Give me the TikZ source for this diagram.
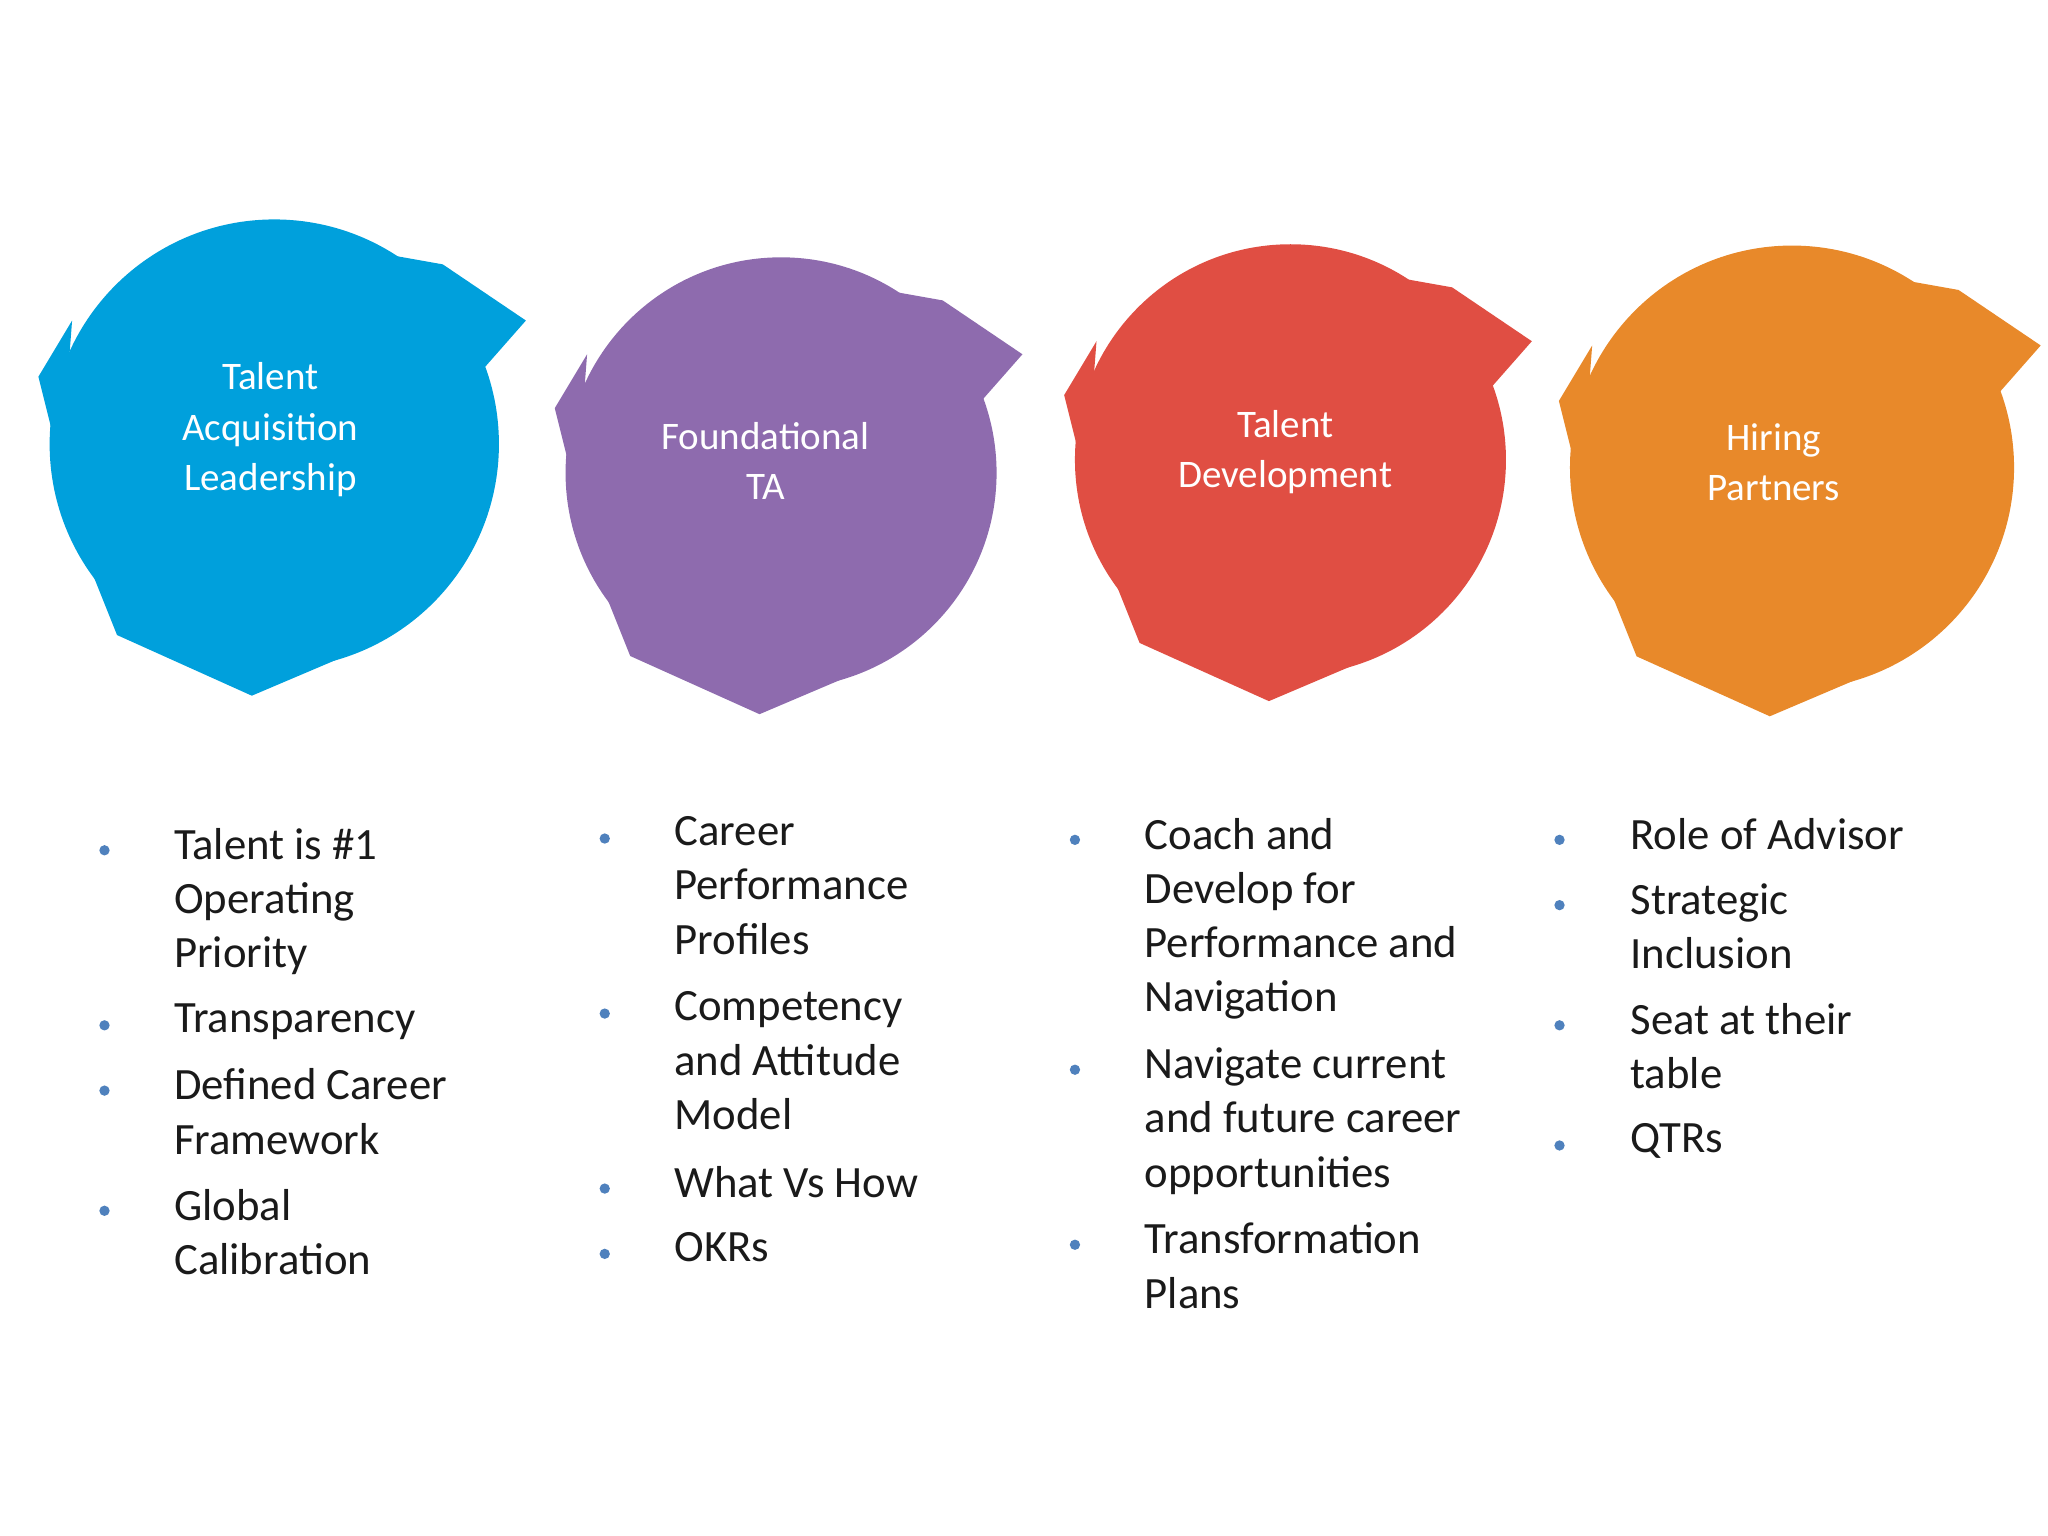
\documentclass[tikz,border=0pt]{standalone}
\usepackage{fontspec}
\setmainfont{Carlito}
\definecolor{cblue}{HTML}{00A0DC}
\definecolor{cpurp}{HTML}{8E6BAE}
\definecolor{cred}{HTML}{E04E43}
\definecolor{corng}{HTML}{E8892A}
\definecolor{cbul}{HTML}{4F81BD}
\definecolor{ctxt}{HTML}{1A1A1A}
\tikzset{
 blob/.style={circle,inner sep=0pt},
 ctext/.style={text=white,align=center,font=\fontsize{17}{22}\selectfont},
 item/.style={anchor=north west,align=left,text=ctxt,inner sep=0pt,font=\fontsize{19.5}{23.6}\selectfont},
 dot/.style={circle,fill=cbul,inner sep=0pt,minimum size=4.5pt},
}
\begin{document}
\begin{tikzpicture}[x=0.02cm,y=-0.02cm]
\useasboundingbox (0,0) rectangle (1568,1176);
% splatter hints
\foreach \c/\x/\y/\r in {cblue/210/340/172, cpurp/598/362/165, cred/988/352/165, corng/1372/358/170}{
  \fill[\c] (\x-\r*0.15,\y-\r*0.96) -- (\x+\r*0.75,\y-\r*0.8) -- (\x+\r*1.12,\y-\r*0.55) -- (\x+\r*0.9,\y-\r*0.3) -- cycle;
  \fill[\c] (\x-\r*0.9,\y+\r*0.35) -- (\x-\r*0.7,\y+\r*0.85) -- (\x-\r*0.1,\y+\r*1.12) -- (\x+\r*0.3,\y+\r*0.95) -- cycle;
  \fill[\c] (\x-\r*1.05,\y-\r*0.3) -- (\x-\r*0.9,\y-\r*0.55) -- (\x-\r*0.95,\y+\r*0.1) -- cycle;
}
\node[blob,fill=cblue,minimum size=344*0.02cm] (c1) at (210,340) {};
\node[blob,fill=cpurp,minimum size=330*0.02cm] (c2) at (598,362) {};
\node[blob,fill=cred,minimum size=330*0.02cm] (c3) at (988,352) {};
\node[blob,fill=corng,minimum size=340*0.02cm] (c4) at (1372,358) {};
\node[ctext] (t1) at (207,329) {Talent\\Acquisition\\Leadership};
\node[ctext] (t2) at (586,353) {Foundational\\TA};
\node[ctext] (t3) at (984,346) {Talent\\Development};
\node[ctext] (t4) at (1358,354) {Hiring\\Partners};
% column 1
\node[dot] (b11) at (80,651) {}; \node[item] (i11) at (133,634) {Talent is \#1\\Operating\\Priority};
\node[dot] (b12) at (80,785) {}; \node[item] (i12) at (133,768) {Transparency};
\node[dot] (b13) at (80,835) {}; \node[item] (i13) at (133,818) {Defined Career\\Framework};
\node[dot] (b14) at (80,927) {}; \node[item] (i14) at (133,910) {Global\\Calibration};
% column 2
\node[dot] (b21) at (463,642) {}; \node[item] (i21) at (516,625) {Career\\Performance\\Profiles};
\node[dot] (b22) at (463,776) {}; \node[item] (i22) at (516,759) {Competency\\and Attitude\\Model};
\node[dot] (b23) at (463,910) {}; \node[item] (i23) at (516,893) {What Vs How};
\node[dot] (b24) at (463,960) {}; \node[item] (i24) at (516,943) {OKRs};
% column 3
\node[dot] (b31) at (823,643) {}; \node[item] (i31) at (876,626) {Coach and\\Develop for\\Performance and\\Navigation};
\node[dot] (b32) at (823,819) {}; \node[item] (i32) at (876,802) {Navigate current\\and future career\\opportunities};
\node[dot] (b33) at (823,953) {}; \node[item] (i33) at (876,936) {Transformation\\Plans};
% column 4
\node[dot] (b41) at (1194,643) {}; \node[item] (i41) at (1248,626) {Role of Advisor};
\node[dot] (b42) at (1194,693) {}; \node[item] (i42) at (1248,676) {Strategic\\Inclusion};
\node[dot] (b43) at (1194,785) {}; \node[item] (i43) at (1248,768) {Seat at their\\table};
\node[dot] (b44) at (1194,877) {}; \node[item] (i44) at (1248,860) {QTRs};
\end{tikzpicture}
\end{document}
